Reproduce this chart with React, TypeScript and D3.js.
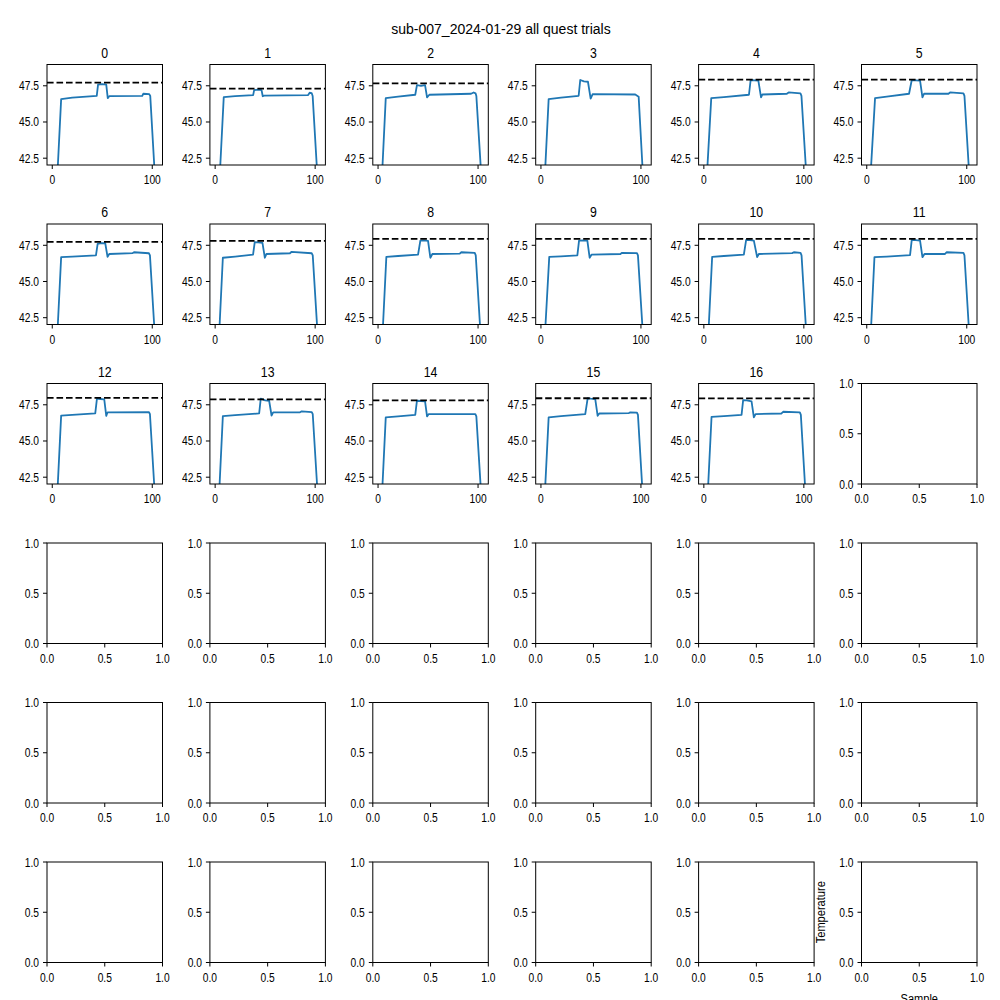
import React from "react";
import * as d3 from "d3";

// figure text
const figTitle = "sub-007_2024-01-29 all quest trials";
const xLabel = "Sample";
const yLabel = "Temperature";

// tick values
const dataXTicks = [0, 100];
const dataYTicks = [42.5, 45.0, 47.5];
const emptyTicks = [0, 0.5, 1.0];

// target temperature per trial (dashed line), trial 3 has none
const targets: (number | null)[] = [
  47.72, 47.3, 47.66, null, 47.93, 47.93, 47.73, 47.81, 47.94,
  47.94, 47.94, 47.94, 47.98, 47.88, 47.81, 47.95, 47.94
];

// [sample, temperature]
const trial0 = [[0, 34.2], [8.9, 46.58], [20, 46.68], [44.5, 46.8], [45.8, 47.58], [50, 47.62], [54, 47.58], [55.5, 46.65], [57, 46.78], [90, 46.8], [91, 46.95], [97, 46.92], [98, 46.8], [105, 38.4]];
const trial1 = [[0, 35], [8.6, 46.72], [20, 46.78], [38, 46.86], [39, 47.2], [43, 47.24], [46.4, 47.2], [47.6, 46.78], [49, 46.82], [93, 46.86], [94.5, 47.02], [96.5, 47.0], [97.5, 46.8], [105, 38.0]];
const trial2 = [[0, 35.6], [7.7, 46.65], [20, 46.75], [37.2, 46.88], [38.9, 47.55], [43, 47.5], [47, 47.55], [49, 46.7], [51.3, 46.88], [93, 46.95], [95.6, 47.04], [97.5, 46.98], [98.3, 46.8], [105, 39.3]];
const trial3 = [[0, 35.8], [7.7, 46.58], [20, 46.68], [37.7, 46.81], [39.3, 47.9], [43, 47.8], [47, 47.78], [49.7, 46.62], [51.7, 46.92], [94.3, 46.9], [97.7, 46.75], [105, 37.5]];
const trial4 = [[0, 37.5], [7.4, 46.65], [20, 46.72], [45.1, 46.88], [46.8, 47.9], [50.5, 47.88], [54.5, 47.85], [57.2, 46.7], [58.6, 46.9], [83, 46.95], [84.8, 47.04], [96.6, 46.97], [97.6, 46.8], [105, 38.5]];
const trial5 = [[0, 36.8], [8.3, 46.65], [20, 46.75], [42.3, 46.95], [45, 47.9], [49, 47.88], [53.3, 47.85], [55.7, 46.7], [57.3, 46.95], [81.7, 46.95], [83.3, 47.04], [96.7, 46.98], [97.7, 46.8], [105, 38.5]];
const trial6 = [[0, 34.2], [8.9, 46.68], [20, 46.72], [43.7, 46.8], [45.4, 47.6], [49, 47.65], [53, 47.64], [55.3, 46.7], [57, 46.9], [80.5, 46.96], [81.8, 47.02], [96.7, 46.95], [97.7, 46.8], [105, 38.5]];
const trial7 = [[0, 35.6], [7.7, 46.64], [20, 46.72], [37.9, 46.86], [39.6, 47.72], [43, 47.7], [47.3, 47.66], [49.7, 46.64], [51.3, 46.9], [74.8, 46.95], [76.5, 47.05], [96.6, 46.95], [97.6, 46.8], [105, 38.5]];
const trial8 = [[0, 35], [8.3, 46.7], [20, 46.76], [40, 46.86], [42.3, 47.82], [46, 47.84], [50, 47.8], [52.3, 46.64], [54.3, 46.9], [81.7, 46.92], [83.3, 47.02], [96.7, 46.98], [97.7, 46.8], [105, 38.5]];
const trial9 = [[0, 36.3], [8.3, 46.7], [20, 46.74], [36.4, 46.8], [38.1, 47.82], [42, 47.84], [46.4, 47.82], [48.7, 46.64], [50.7, 46.86], [79.5, 46.9], [81.1, 46.98], [96, 46.96], [97, 46.8], [105, 38.0]];
const trial10 = [[0, 35], [8.3, 46.7], [20, 46.76], [40, 46.86], [42.3, 47.88], [46, 47.86], [50, 47.82], [53.3, 46.68], [55, 46.9], [88.3, 46.96], [90, 47.02], [96.7, 46.98], [97.7, 46.8], [105, 38.5]];
const trial11 = [[0, 35.6], [7.7, 46.68], [20, 46.72], [43.3, 46.82], [45, 47.88], [49, 47.86], [53.3, 47.82], [55.7, 46.68], [57.7, 46.9], [78.3, 46.9], [80, 47.02], [96.7, 46.98], [97.7, 46.8], [105, 38.5]];
const trial12 = [[0, 34.2], [8.9, 46.75], [20, 46.8], [43, 46.9], [44.7, 47.92], [48, 47.9], [52, 47.88], [54, 46.73], [55.3, 46.98], [96.7, 47.0], [97.7, 46.85], [105, 38.5]];
const trial13 = [[0, 35.6], [7.7, 46.72], [20, 46.78], [44, 46.9], [45.6, 47.92], [50, 47.8], [54, 47.78], [56.4, 46.76], [58, 46.98], [84.9, 46.98], [86.6, 47.05], [96.6, 47.0], [97.6, 46.85], [105, 38.5]];
const trial14 = [[0, 35.6], [7.7, 46.63], [20, 46.7], [37.2, 46.81], [38.9, 47.78], [43, 47.76], [47, 47.73], [49, 46.7], [50.7, 46.86], [97.3, 46.86], [98.3, 46.7], [105, 39.2]];
const trial15 = [[0, 35.9], [7.7, 46.63], [20, 46.72], [44.3, 46.86], [46.7, 47.95], [50, 47.92], [54.3, 47.89], [56.7, 46.74], [58.3, 46.9], [87.7, 46.92], [89.3, 46.98], [96, 46.96], [97, 46.8], [105, 37.5]];
const trial16 = [[0, 35.9], [7.7, 46.67], [20, 46.72], [37.7, 46.81], [39.3, 47.82], [43, 47.8], [47.7, 47.73], [50, 46.63], [51.7, 46.86], [77.7, 46.9], [79.3, 47.02], [96, 46.97], [97, 46.8], [105, 37.5]];

const trials = [
  trial0, trial1, trial2, trial3, trial4, trial5, trial6, trial7, trial8,
  trial9, trial10, trial11, trial12, trial13, trial14, trial15, trial16
];

// layout (px)
const W = 1000;
const H = 1000;
const nRows = 6;
const nCols = 6;
const left0 = 47;
const colStep = 162.9;
const panelW = 115.5;
const top0 = 64.5;
const rowStep = 159.5;
const panelH = 100.5;

const font = "'Liberation Sans', Arial, sans-serif";
const squeeze = 0.82; // labels in the reference are set in a narrow face
const blue = "#1f77b4";

// text drawn horizontally condensed, anchored at (x, y)
function NText({ x, y, size, anchor, rotate = 0, children }: any) {
  return (
    <text
      transform={`translate(${x},${y}) rotate(${rotate}) scale(${squeeze},1)`}
      textAnchor={anchor}
      fontSize={size}
      fontFamily={font}
      fill="black"
    >
      {children}
    </text>
  );
}

function Panel({ idx }: { idx: number }) {
  const row = Math.floor(idx / nCols);
  const col = idx % nCols;
  const x0 = left0 + col * colStep;
  const y0 = top0 + row * rowStep;
  const data = trials[idx];
  const hasData = !!data;

  const x = d3.scaleLinear()
    .domain(hasData ? [-5.25, 110.25] : [0, 1])
    .range([0, panelW]);
  const y = d3.scaleLinear()
    .domain(hasData ? [42.03, 48.97] : [0, 1])
    .range([panelH, 0]);

  const xTicks = hasData ? dataXTicks : emptyTicks;
  const yTicks = hasData ? dataYTicks : emptyTicks;
  const xFmt = hasData ? d3.format("d") : d3.format(".1f");
  const yFmt = d3.format(".1f");

  const line = d3.line<number[]>()
    .x(d => x(d[0]))
    .y(d => y(d[1]));

  const target = hasData ? targets[idx] : null;
  const clipId = `clip-${idx}`;

  return (
    <g transform={`translate(${x0},${y0})`}>
      <clipPath id={clipId}>
        <rect x={0} y={0} width={panelW} height={panelH} />
      </clipPath>
      {hasData && (
        <g clipPath={`url(#${clipId})`}>
          <path d={line(data) || ""} fill="none" stroke={blue} strokeWidth={1.8}
            strokeLinejoin="round" strokeLinecap="square" />
          {target != null && (
            <line x1={0} x2={panelW} y1={y(target)} y2={y(target)}
              stroke="black" strokeWidth={1.8} strokeDasharray="6.6,2.9" />
          )}
        </g>
      )}
      <rect x={0} y={0} width={panelW} height={panelH} fill="none" stroke="black" strokeWidth={1} />
      {xTicks.map(t => (
        <g key={`x${t}`}>
          <line x1={x(t)} x2={x(t)} y1={panelH} y2={panelH + 4} stroke="black" strokeWidth={1} />
          <NText x={x(t)} y={panelH + 19} size={12.5} anchor="middle">{xFmt(t)}</NText>
        </g>
      ))}
      {yTicks.map(t => (
        <g key={`y${t}`}>
          <line x1={0} x2={-4} y1={y(t)} y2={y(t)} stroke="black" strokeWidth={1} />
          <NText x={-8} y={y(t) + 4.5} size={12.5} anchor="end">{yFmt(t)}</NText>
        </g>
      ))}
      {hasData && (
        <NText x={panelW / 2} y={-7} size={15} anchor="middle">{String(idx)}</NText>
      )}
    </g>
  );
}

export default function App() {
  const last = nRows * nCols - 1;
  const lastX = left0 + (last % nCols) * colStep;
  const lastY = top0 + Math.floor(last / nCols) * rowStep;
  return (
    <svg width={W} height={H} style={{ position: "absolute", left: 0, top: 0, background: "white" }}>
      <rect width={W} height={H} fill="white" />
      <text x={501} y={34} textAnchor="middle" fontSize={14} fontFamily={font} fill="black">
        {figTitle}
      </text>
      {d3.range(nRows * nCols).map(i => <Panel key={i} idx={i} />)}
      <NText x={lastX - 37} y={lastY + panelH / 2} size={13.5} anchor="middle" rotate={-90}>
        {yLabel}
      </NText>
      <NText x={lastX + panelW / 2} y={lastY + panelH + 40} size={13.5} anchor="middle">
        {xLabel}
      </NText>
    </svg>
  );
}
